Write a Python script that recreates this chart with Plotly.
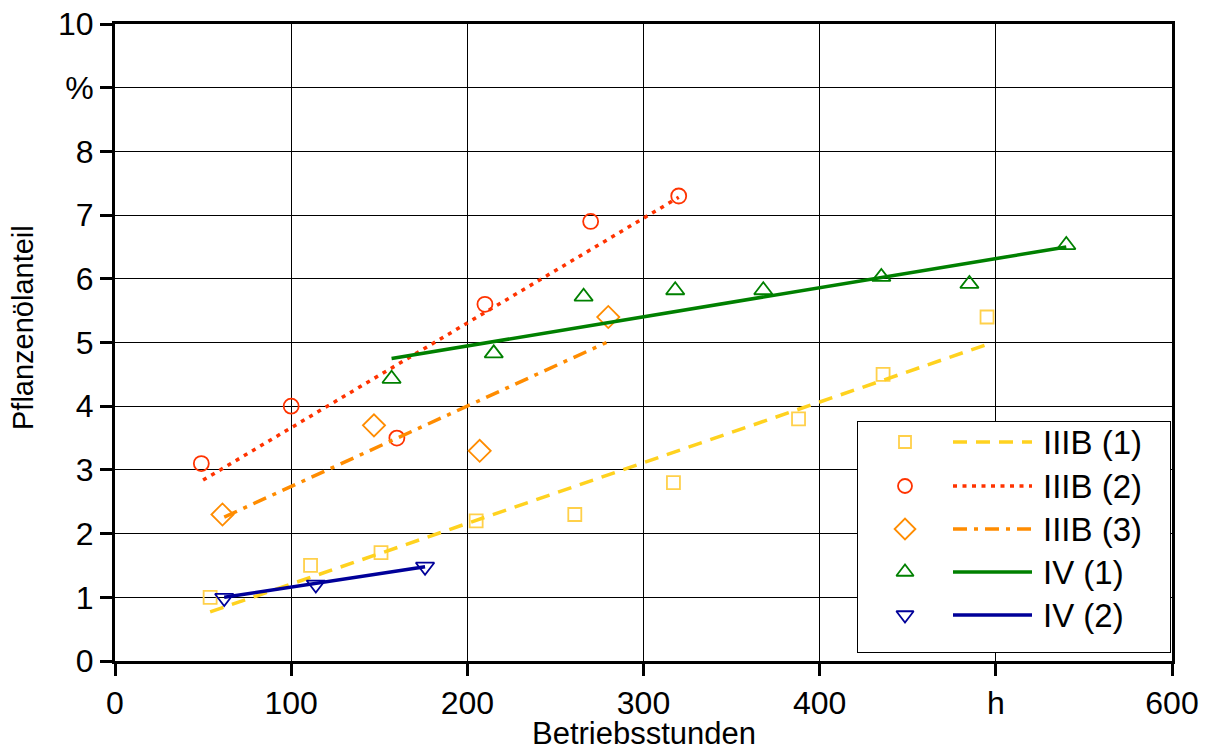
import plotly.graph_objects as go

# ---------------- data ----------------
iiib1_x = [54, 111, 151, 205, 261, 317, 388, 436, 495]
iiib1_y = [1.0, 1.5, 1.7, 2.2, 2.3, 2.8, 3.8, 4.5, 5.4]
iiib1_fit_x = [54, 495]
iiib1_fit_y = [0.77, 4.97]

iiib2_x = [49, 100, 160, 210, 270, 320]
iiib2_y = [3.1, 4.0, 3.5, 5.6, 6.9, 7.3]
iiib2_fit_x = [50, 320]
iiib2_fit_y = [2.84, 7.28]

iiib3_x = [61, 147, 207, 280]
iiib3_y = [2.3, 3.7, 3.3, 5.4]
iiib3_fit_x = [62, 279]
iiib3_fit_y = [2.26, 5.0]

iv1_x = [157, 215, 266, 318, 368, 435, 485, 540]
iv1_y = [4.43, 4.83, 5.72, 5.82, 5.82, 6.03, 5.92, 6.53]
iv1_fit_x = [157, 540]
iv1_fit_y = [4.75, 6.5]

iv2_x = [62, 114, 176]
iv2_y = [0.99, 1.2, 1.48]
iv2_fit_x = [62, 176]
iv2_fit_y = [1.0, 1.48]

series_names = ["IIIB (1)", "IIIB (2)", "IIIB (3)", "IV (1)", "IV (2)"]

x_tickvals = [0, 100, 200, 300, 400, 500, 600]
x_ticktext = ["0", "100", "200", "300", "400", "h", "600"]
y_tickvals = [0, 1, 2, 3, 4, 5, 6, 7, 8, 9, 10]
y_ticktext = ["0", "1", "2", "3", "4", "5", "6", "7", "8", "%", "10"]

# ---------------- styles ----------------
FONT = "Liberation Sans, Arial, sans-serif"
styles = [
    dict(mcol="#FFD04A", lcol="#FFD21F", symbol="square-open", msize=13, dash="14px,9px", lw=3.5),
    dict(mcol="#FF3300", lcol="#FF3300", symbol="circle-open", msize=15, dash="4px,5.5px", lw=3.5),
    dict(mcol="#FF8C00", lcol="#FF8C00", symbol="diamond-open", msize=17, dash="14px,7px,4px,7px", lw=3.5),
    dict(mcol="#008000", lcol="#008000", symbol="triangle-up-open", msize=16, dash="solid", lw=3.5),
    dict(mcol="#000099", lcol="#000099", symbol="triangle-down-open", msize=16, dash="solid", lw=3.5),
]
pts = [(iiib1_x, iiib1_y), (iiib2_x, iiib2_y), (iiib3_x, iiib3_y), (iv1_x, iv1_y), (iv2_x, iv2_y)]
fits = [(iiib1_fit_x, iiib1_fit_y), (iiib2_fit_x, iiib2_fit_y), (iiib3_fit_x, iiib3_fit_y),
        (iv1_fit_x, iv1_fit_y), (iv2_fit_x, iv2_fit_y)]

fig = go.Figure()
for (px, py), (fx, fy), st, name in zip(pts, fits, styles, series_names):
    fig.add_trace(go.Scatter(x=px, y=py, mode="markers", name=name, showlegend=False,
                             marker=dict(symbol=st["symbol"], size=st["msize"], color=st["mcol"],
                                         line=dict(width=1.8, color=st["mcol"])),
                             cliponaxis=False))
    fig.add_trace(go.Scatter(x=fx, y=fy, mode="lines", name=name, showlegend=False,
                             line=dict(color=st["lcol"], width=st["lw"], dash=st["dash"])))

# ---------------- custom legend (overlay axes in pixel units of the box) ----------------
# box: 312 x 230 px
row_y = [210, 166, 123, 80, 37]
for st, name, ry in zip(styles, series_names, row_y):
    fig.add_trace(go.Scatter(x=[47], y=[ry], mode="markers", xaxis="x2", yaxis="y2", showlegend=False,
                             hoverinfo="skip",
                             marker=dict(symbol=st["symbol"], size=st["msize"] - 1, color=st["mcol"],
                                         line=dict(width=1.8, color=st["mcol"]))))
    fig.add_trace(go.Scatter(x=[95, 174], y=[ry, ry], mode="lines", xaxis="x2", yaxis="y2", showlegend=False,
                             hoverinfo="skip",
                             line=dict(color=st["lcol"], width=st["lw"], dash=st["dash"])))
    fig.add_annotation(x=183, y=ry, xref="x2", yref="y2", text=name, showarrow=False,
                       xanchor="left", yanchor="middle", font=dict(family=FONT, size=33, color="black"))

# page has an 8px body margin; plot area wanted at x 115..1172, y 24..661
OFF = 8
PL, PR, PT, PB = 115, 1172, 24, 661
W, H = 1209, 747
L = PL - OFF
T = PT - OFF
R = W - (PR - OFF)
B = H - (PB - OFF)
pw, ph = PR - PL, PB - PT
bx0, bx1 = (858 - PL) / pw, (1170 - PL) / pw
by0, by1 = (PB - 652) / ph, (PB - 422) / ph

fig.add_shape(type="rect", xref="paper", yref="paper", x0=bx0, x1=bx1, y0=by0, y1=by1,
              fillcolor="white", line=dict(color="black", width=2), layer="between")

axis_common = dict(showgrid=True, gridcolor="black", gridwidth=1, showline=True, linecolor="black",
                   linewidth=3, mirror=True, ticks="outside", ticklen=12, tickwidth=3, tickcolor="black",
                   zeroline=False, ticklabeloverflow="allow", automargin=False,
                   tickfont=dict(family=FONT, size=32, color="black"))

fig.update_layout(
    width=W, height=H,
    margin=dict(l=L, r=R, t=T, b=B, autoexpand=False),
    paper_bgcolor="white", plot_bgcolor="white",
    xaxis=dict(range=[0, 600], tickvals=x_tickvals, ticktext=x_ticktext, **axis_common),
    yaxis=dict(range=[0, 10], tickvals=y_tickvals, ticktext=y_ticktext, **axis_common),
    xaxis2=dict(domain=[bx0, bx1], range=[0, 312], visible=False, anchor="y2", automargin=False),
    yaxis2=dict(domain=[by0, by1], range=[0, 230], visible=False, anchor="x2", automargin=False),
    showlegend=False,
)

fig.add_annotation(x=(644 - PL) / pw, y=(PB - 733) / ph, xref="paper", yref="paper", text="Betriebsstunden",
                   showarrow=False, xanchor="center", yanchor="middle",
                   font=dict(family=FONT, size=31, color="black"))
fig.add_annotation(x=(23 - PL) / pw, y=(PB - 328) / ph, xref="paper", yref="paper", text="Pflanzenölanteil",
                   showarrow=False, xanchor="center", yanchor="middle", textangle=-90,
                   font=dict(family=FONT, size=29, color="black"))

fig.write_html("out.html")
